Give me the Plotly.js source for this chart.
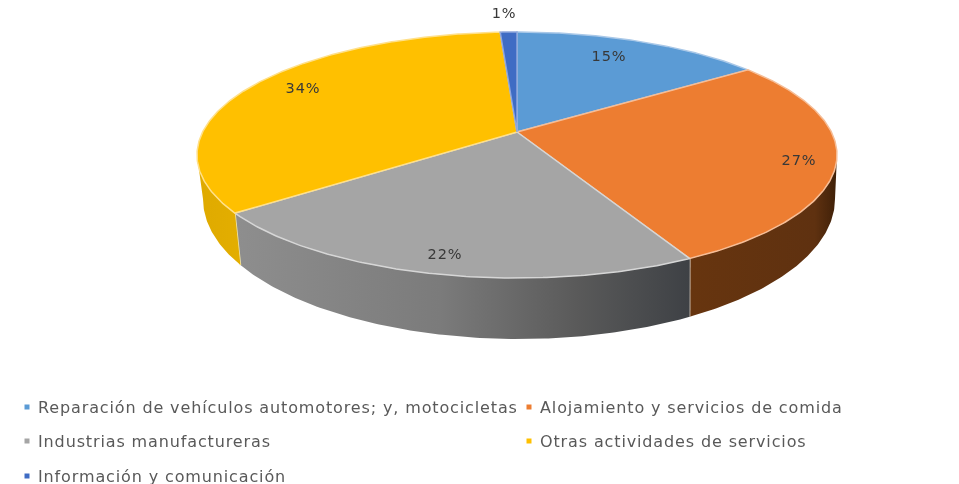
<!DOCTYPE html>
<html>
<head>
<meta charset="utf-8">
<script src="https://cdn.plot.ly/plotly-3.0.1.min.js"></script>
<style>
html,body{margin:0;padding:0;background:#fff;overflow:hidden}
#chart{width:959px;height:484px;filter:blur(0.65px)}
#chart .textpoint text{letter-spacing:0.87px}
</style>
</head>
<body>
<div id="chart"></div>
<script>
// Data
const categories = [
  "Reparación de vehículos automotores; y, motocicletas",
  "Alojamiento y servicios de comida",
  "Industrias manufactureras",
  "Otras actividades de servicios",
  "Información y comunicación"
];
const values = [15, 27, 22, 34, 1];
const valueLabels = ["15%", "27%", "22%", "34%", "1%"];

// Styles
const topColors = ["#5b9bd5", "#ed7d31", "#a5a5a5", "#ffc000", "#3f6cc4"];
const edgeColors = ["#a9c8e8", "#f6bd96", "#d6d6d6", "#ffe08a", "#8ea6dc"];
const wallScales = {
  1: [[0, "#67350f"], [0.85, "#5f3110"], [1, "#3f2008"]],
  2: [[0, "#8e8e8e"], [0.45, "#7b7b7b"], [0.75, "#5a5a5a"], [1, "#3e4145"]],
  3: [[0, "#dfaa00"], [1, "#e3ae00"]]
};

// Layout constants (pixels of the 959x484 frame)
const CX = 517, TOP_CY = 155, RX = 320, RY = 123, APEX_SHIFT = -23 / 123;
const BOT_CX = 519, BOT_CY = 199, BOT_RX = 316, BOT_RY = 140;
const labelAnchors = [[609, 57], [799, 161], [445, 255], [303, 89], [504, 14]];
const legendAnchors = [[27, 407], [529, 407], [27, 441], [529, 441], [27, 476]];
const LEGEND_TEXT_GAP = 11, LEGEND_TEXT_DROP = 1.5;

// Perspective projection of the pie circle onto the visible ellipse
const total = values.reduce((a, b) => a + b, 0);
function project(theta) {
  const u = Math.sin(theta), v = -Math.cos(theta), a = APEX_SHIFT;
  const d = 1 + a * v;
  return [u * Math.sqrt(1 - a * a) / d, (v + a) / d];
}
const topPoint = p => [CX + RX * p[0], TOP_CY + RY * p[1]];
const bottomPoint = p => [BOT_CX + BOT_RX * p[0], BOT_CY + BOT_RY * p[1]];

const traces = [];
let cum = 0;
const spans = values.map(v => { const s = [cum, cum + v]; cum += v; return s; });
const toTheta = c => c / total * 2 * Math.PI;

function arc(t0, t1) {
  const n = Math.max(4, Math.ceil((t1 - t0) / 0.01));
  const pts = [];
  for (let i = 0; i <= n; i++) pts.push(project(t0 + (t1 - t0) * i / n));
  return pts;
}
// theta at which the projected rim reaches its left or right extreme
function rimTheta(side) {
  const th = Math.acos(APEX_SHIFT);
  return side > 0 ? th : 2 * Math.PI - th;
}

// Side walls (front of the pie only)
[1, 2, 3].forEach(i => {
  const t0 = Math.max(toTheta(spans[i][0]), rimTheta(1));
  const t1 = Math.min(toTheta(spans[i][1]), rimTheta(-1));
  const pts = arc(t0, t1);
  const up = pts.map(topPoint), low = pts.map(bottomPoint).reverse();
  const poly = up.concat(low, [up[0]]);
  traces.push({
    type: "scatter", mode: "lines", hoverinfo: "skip", showlegend: false,
    x: poly.map(p => p[0]), y: poly.map(p => p[1]),
    fill: "toself",
    fillgradient: { type: "horizontal", colorscale: wallScales[i] },
    line: { color: "rgba(0,0,0,0)", width: 0 }
  });
  // light seam where two walls meet
  if (i < 3) {
    const e = project(toTheta(spans[i][1]));
    const a = topPoint(e), b = bottomPoint(e);
    traces.push({
      type: "scatter", mode: "lines", hoverinfo: "skip", showlegend: false,
      x: [a[0], b[0]], y: [a[1], b[1]],
      line: { color: i === 1 ? "#d6cabd" : "#f0e4a8", width: 1.6 }
    });
  }
});

// Top faces
values.forEach((v, i) => {
  const pts = arc(toTheta(spans[i][0]), toTheta(spans[i][1])).map(topPoint);
  const apex = topPoint([0, APEX_SHIFT]);
  const poly = [apex].concat(pts, [apex]);
  traces.push({
    type: "scatter", mode: "lines", hoverinfo: "skip", showlegend: false,
    name: categories[i],
    x: poly.map(p => p[0]), y: poly.map(p => p[1]),
    fill: "toself", fillcolor: topColors[i],
    line: { color: edgeColors[i], width: 1.5 }
  });
});

// Value labels
traces.push({
  type: "scatter", mode: "text", hoverinfo: "skip", showlegend: false,
  x: labelAnchors.map(p => p[0]), y: labelAnchors.map(p => p[1]),
  text: valueLabels,
  textfont: { family: "DejaVu Sans, sans-serif", size: 14.5, color: "#383838" },
  textposition: "middle center"
});

// Legend markers and texts
categories.forEach((c, i) => {
  traces.push({
    type: "scatter", mode: "markers", hoverinfo: "skip", showlegend: false,
    x: [legendAnchors[i][0]], y: [legendAnchors[i][1]],
    marker: { color: topColors[i], size: 5, symbol: "square" }
  });
});
traces.push({
  type: "scatter", mode: "text", hoverinfo: "skip", showlegend: false,
  x: legendAnchors.map(p => p[0] + LEGEND_TEXT_GAP),
  y: legendAnchors.map(p => p[1] + LEGEND_TEXT_DROP),
  text: categories,
  textfont: { family: "DejaVu Sans, sans-serif", size: 16, color: "#595959" },
  textposition: "middle right",
  cliponaxis: false
});

Plotly.newPlot("chart", traces, {
  width: 959, height: 484,
  margin: { l: 0, r: 0, t: 0, b: 0, pad: 0 },
  paper_bgcolor: "#ffffff", plot_bgcolor: "#ffffff",
  showlegend: false,
  xaxis: { range: [0, 959], visible: false, fixedrange: true },
  yaxis: { range: [484, 0], visible: false, fixedrange: true }
}, { staticPlot: true, displayModeBar: false });
</script>
</body>
</html>
